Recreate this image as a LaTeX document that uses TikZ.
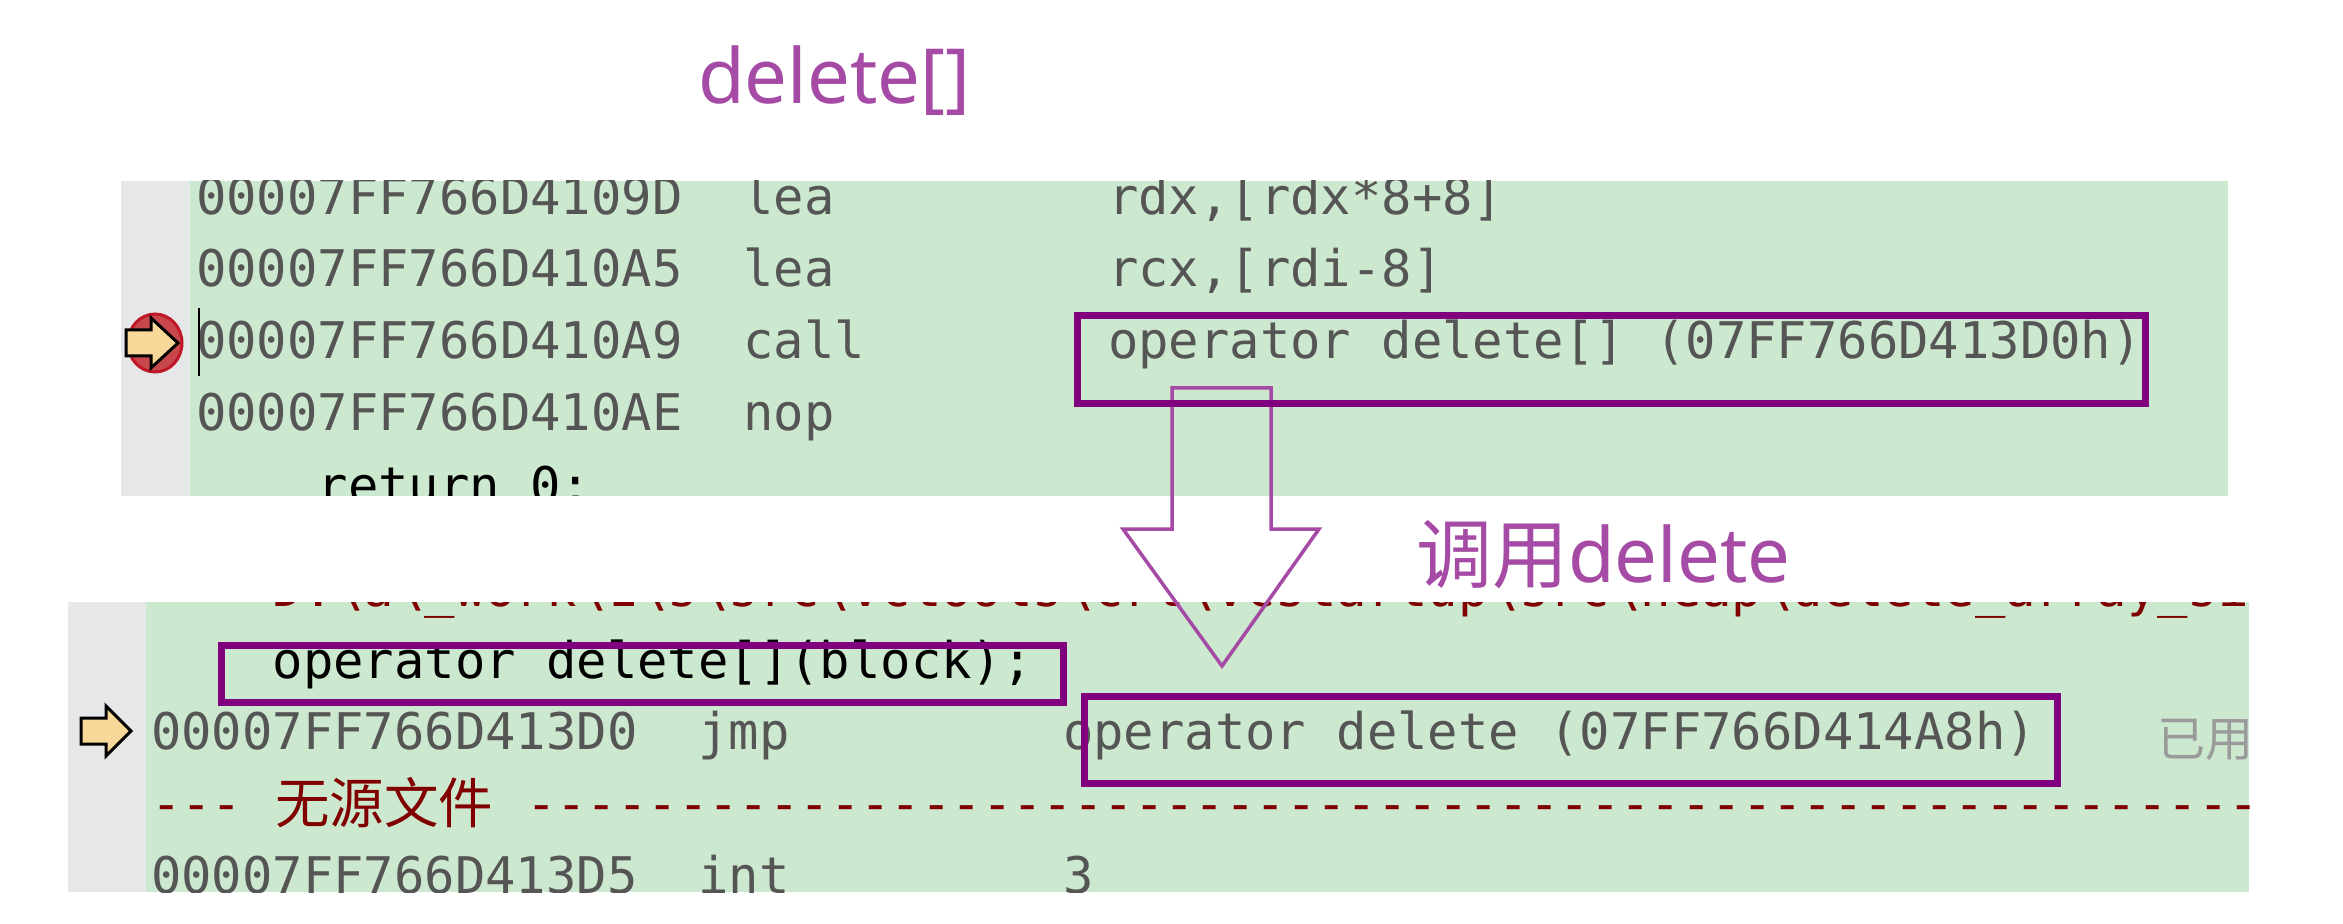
\documentclass[tikz,border=0pt]{standalone}
\usepackage{fontspec}
\setmonofont{DejaVu Sans Mono}
\newfontfamily\cjkf{Noto Sans CJK SC}
\newfontfamily\latf{Noto Sans}
\definecolor{vsgreen}{HTML}{CCE8CF}
\definecolor{gutter}{HTML}{E6E7E8}
\definecolor{hlpurple}{HTML}{800080}
\definecolor{penpurple}{HTML}{A54BA5}
\definecolor{asmgray}{HTML}{555555}
\definecolor{srcred}{HTML}{800000}
\definecolor{hintgray}{HTML}{9A9A9A}
\definecolor{bpred}{HTML}{C8474D}
\definecolor{bpedge}{HTML}{C01828}
\definecolor{arrowyellow}{HTML}{F8D898}
\newcommand\mydashrun[1]{\count255=0 \loop -\kern0pt\advance\count255 by 1 \ifnum\count255<#1\repeat}
\begin{document}
\begin{tikzpicture}[x=0.5pt,y=-0.5pt,
  txt/.style={anchor=base west,inner sep=0pt,outer sep=0pt},
  asm/.style={txt,text=asmgray,font=\ttfamily\fontsize{25.25pt}{30pt}\selectfont},
  srcline/.style={asm,text=black},
  srcpath/.style={asm,text=srcred},
  hlbox/.style={draw=hlpurple,line width=3.5pt},
  pen/.style={txt,text=penpurple,font=\latf\fontsize{38pt}{44pt}\selectfont},
  bparrow/.style={fill=arrowyellow,draw=black,line width=1.5pt,line join=miter}]
\useasboundingbox (0,0) rectangle (2343,924);
\fill[white] (0,0) rectangle (2343,924);

% ---------- top panel ----------
\begin{scope}
  \clip (121,181) rectangle (2228,496);
  \fill[gutter] (121,181) rectangle (190,496);
  \fill[vsgreen] (190,181) rectangle (2228,496);
  \node[asm] (a1) at (196,215) {00007FF766D4109D};
  \node[asm] (m1) at (743.2,215) {lea};
  \node[asm] (o1) at (1108,215) {rdx,[rdx*8+8]};
  \node[asm] (a2) at (196,287) {00007FF766D410A5};
  \node[asm] (m2) at (743.2,287) {lea};
  \node[asm] (o2) at (1108,287) {rcx,[rdi-8]};
  \node[asm] (a3) at (196,359) {00007FF766D410A9};
  \node[asm] (m3) at (743.2,359) {call};
  \node[asm] (o3) at (1108,359) {operator delete[] (07FF766D413D0h)};
  \node[asm] (a4) at (196,431) {00007FF766D410AE};
  \node[asm] (m4) at (743.2,431) {nop};
  \node[srcline] (r5) at (317.6,503) {return 0;};
  \draw[line width=1.25pt] (199,308) -- (199,376);
  \filldraw[fill=bpred,draw=bpedge,line width=1.5pt] (155,343) ellipse [x radius=13.5pt,y radius=14.5pt];
  \filldraw[bparrow] (126,330) -- (151,330) -- (151,318) -- (178,343) -- (151,368) -- (151,356) -- (126,356) -- cycle;
\end{scope}

% ---------- bottom panel ----------
\begin{scope}
  \clip (68,602) rectangle (2249,892);
  \fill[gutter] (68,602) rectangle (146,892);
  \fill[vsgreen] (146,602) rectangle (2249,892);
  \node[srcpath] (p0) at (272.6,606) {D:\textbackslash a\textbackslash\_work\textbackslash 1\textbackslash s\textbackslash src\textbackslash vctools\textbackslash crt\textbackslash vcstartup\textbackslash src\textbackslash heap\textbackslash delete\_array\_size.cpp};
  \node[srcline] (s1) at (272.6,678) {operator delete[](block);};
  \node[asm] (b2) at (151,749) {00007FF766D413D0};
  \node[asm] (n2) at (698.2,749) {jmp};
  \node[asm] (q2) at (1063,749) {operator delete (07FF766D414A8h)};
  \node[txt,text=hintgray,font=\cjkf\fontsize{24pt}{28pt}\selectfont] (hint) at (2157,756) {已用};
  \node[srcpath] (d3a) at (151,821) {\mydashrun{3}};
  \node[txt,text=srcred,font=\cjkf\fontsize{27.25pt}{30pt}\selectfont] (nosrc) at (275,823) {无源文件};
  \node[srcpath] (d3b) at (526,821) {\mydashrun{58}};
  \node[asm] (b4) at (151,893) {00007FF766D413D5};
  \node[asm] (n4) at (698.2,893) {int};
  \node[asm] (q4) at (1063,893) {3};
  \filldraw[bparrow] (81,718) -- (106,718) -- (106,706) -- (131,731) -- (106,756) -- (106,744) -- (81,744) -- cycle;
\end{scope}

% ---------- annotations ----------
\node[pen] (title) at (698,104) {delete[]};
\node[pen] (calllbl) at (1416,582) {{\cjkf 调用}delete};
\draw[penpurple,line width=1.75pt,line join=miter] (1172,388) -- (1271,388) -- (1271,529) -- (1319,529) -- (1222,666) -- (1123,529) -- (1172,529) -- cycle;
\draw[hlbox] (1077,315.5) rectangle (2145,403.5);
\draw[hlbox] (221.5,645) rectangle (1063,702.5);
\draw[hlbox] (1084,696.5) rectangle (2057,783.5);
\end{tikzpicture}
\end{document}
